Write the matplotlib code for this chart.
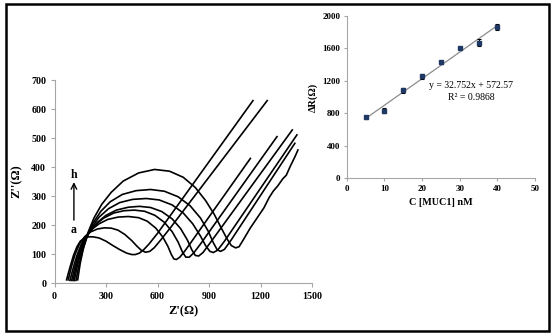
import matplotlib
matplotlib.use("Agg")
import matplotlib.pyplot as plt
from matplotlib.patches import Rectangle

plt.rcParams['font.family'] = ['Liberation Serif', 'DejaVu Serif']
plt.rcParams['font.weight'] = 'bold'

# ---- Nyquist curves a..h (Z', Z'') ----
curve_a_x = [70, 90, 110, 130, 150, 175, 200, 225, 260, 300, 340, 380, 420, 450, 470, 495,
             520, 550, 600, 1156]
curve_a_y = [12, 55, 95, 125, 145, 156, 160, 160, 156, 145, 130, 116, 104, 99, 99, 104,
             116, 135, 172, 629]

curve_b_x = [80, 100, 120, 145, 175, 210, 250, 290, 330, 370, 410, 450, 480, 505, 530, 555,
             580, 620, 680, 1239]
curve_b_y = [12, 60, 100, 135, 160, 177, 187, 191, 190, 183, 168, 147, 128, 114, 107, 110,
             122, 150, 195, 629]

curve_c_x = [90, 110, 130, 155, 185, 220, 260, 310, 370, 430, 490, 540, 590, 630, 660, 680,
             695, 710, 730, 760, 800, 1141]
curve_c_y = [10, 55, 95, 133, 163, 187, 205, 220, 228, 230, 226, 214, 190, 160, 128, 100,
             84, 82, 90, 112, 145, 430]

curve_d_x = [100, 120, 140, 165, 195, 235, 285, 345, 405, 465, 525, 585, 640, 685, 720, 745,
             765, 785, 810, 850, 1296]
curve_d_y = [10, 60, 100, 140, 172, 200, 224, 242, 250, 252, 248, 234, 210, 178, 142, 108,
             90, 90, 104, 135, 505]

curve_e_x = [108, 127, 147, 172, 205, 250, 300, 360, 430, 495, 560, 625, 685, 735, 775, 800,
             820, 840, 865, 910, 1385]
curve_e_y = [10, 60, 100, 142, 178, 210, 234, 252, 262, 265, 261, 247, 222, 188, 148, 115,
             96, 94, 106, 142, 528]

curve_f_x = [115, 133, 153, 180, 215, 260, 315, 380, 455, 535, 610, 685, 750, 805, 850, 880,
             905, 925, 950, 990, 1412]
curve_f_y = [10, 60, 105, 150, 192, 228, 257, 278, 289, 292, 287, 270, 242, 205, 163, 130,
             110, 106, 114, 145, 511]

curve_g_x = [125, 142, 162, 190, 225, 270, 325, 395, 475, 560, 640, 720, 790, 850, 895, 925,
             948, 968, 990, 1030, 1400]
curve_g_y = [10, 62, 110, 160, 208, 248, 281, 306, 319, 323, 317, 298, 267, 225, 180, 140,
             115, 110, 117, 150, 482]

curve_h_x = [135, 150, 170, 195, 230, 275, 330, 400, 490, 583, 670, 750, 820, 880, 930, 970,
             1005, 1030, 1055, 1075, 1100, 1140, 1180, 1220, 1250, 1275, 1300, 1330, 1350,
             1375, 1400, 1418]
curve_h_y = [12, 70, 125, 175, 225, 272, 313, 352, 380, 392, 386, 365, 330, 285, 238, 192,
             153, 130, 122, 126, 150, 190, 225, 260, 295, 318, 335, 360, 372, 405, 435, 459]

curves_x = [curve_a_x, curve_b_x, curve_c_x, curve_d_x, curve_e_x, curve_f_x, curve_g_x, curve_h_x]
curves_y = [curve_a_y, curve_b_y, curve_c_y, curve_d_y, curve_e_y, curve_f_y, curve_g_y, curve_h_y]

# ---- calibration inset ----
conc = [5, 10, 15, 20, 25, 30, 35, 40]
delta_r = [750, 832, 1086, 1258, 1430, 1607, 1672, 1865]
delta_r_err = [20, 30, 30, 30, 20, 15, 40, 35]
slope = 32.752
intercept = 572.57

grey = '#a6a6a6'

fig = plt.figure(figsize=(5.54, 3.36), dpi=100)

# main Nyquist plot
ax = fig.add_axes([0.0984, 0.1568, 0.4648, 0.6051])
for cx, cy in zip(curves_x, curves_y):
    ax.plot(cx, cy, color='black', lw=1.2, solid_joinstyle='round')
ax.set_xlim(0, 1500)
ax.set_ylim(0, 700)
ax.set_xticks(range(0, 1501, 300))
ax.set_yticks(range(0, 701, 100))
for s in ['top', 'right']:
    ax.spines[s].set_visible(False)
for s in ['left', 'bottom']:
    ax.spines[s].set_color(grey)
ax.tick_params(direction='out', length=3, color=grey, labelsize=7.2, pad=3)
ax.set_xlabel("Z'(Ω)", fontsize=9, fontweight='bold', labelpad=3)
ax.set_ylabel("Z''(Ω)", fontsize=9, fontweight='bold', labelpad=6)

ax.annotate('', xy=(113, 358), xytext=(113, 208),
            arrowprops=dict(arrowstyle='->', color='black', lw=1.0))
ax.text(113, 373, 'h', ha='center', va='center', fontsize=8.5, fontweight='bold')
ax.text(113, 183, 'a', ha='center', va='center', fontsize=8.5, fontweight='bold')

# inset calibration plot
ins = fig.add_axes([0.6258, 0.4693, 0.3399, 0.4830])
line_x = [conc[0], conc[-1]]
ins.plot(line_x, [slope * v + intercept for v in line_x], color='#8c8c8c', lw=0.9)
ins.errorbar(conc, delta_r, yerr=delta_r_err, fmt='s', ms=2.5, color='#1f3864',
             ecolor='black', elinewidth=0.8, capsize=1.5, capthick=0.8)
ins.set_xlim(0, 50)
ins.set_ylim(0, 2000)
ins.set_xticks(range(0, 51, 10))
ins.set_yticks(range(0, 2001, 400))
for s in ['top', 'right']:
    ins.spines[s].set_visible(False)
for s in ['left', 'bottom']:
    ins.spines[s].set_color(grey)
ins.tick_params(direction='out', length=2.5, color=grey, labelsize=6.5, pad=2)
ins.set_xlabel('C [MUC1] nM', fontsize=7.3, fontweight='bold', labelpad=4)
ins.set_ylabel('ΔR(Ω)', fontsize=7.5, fontweight='bold', labelpad=3)
ins.text(33, 1138, 'y = 32.752x + 572.57', ha='center', va='center',
         fontsize=7, fontweight='normal')
ins.text(33, 1002, 'R² = 0.9868', ha='center', va='center',
         fontsize=7, fontweight='normal')

# frame around the whole picture
fig.add_artist(Rectangle((5.5 / 554, 5 / 336), 543 / 554, 327 / 336,
                         transform=fig.transFigure, fill=False,
                         edgecolor='black', lw=1.8))

fig.savefig('out.png', dpi=100)
